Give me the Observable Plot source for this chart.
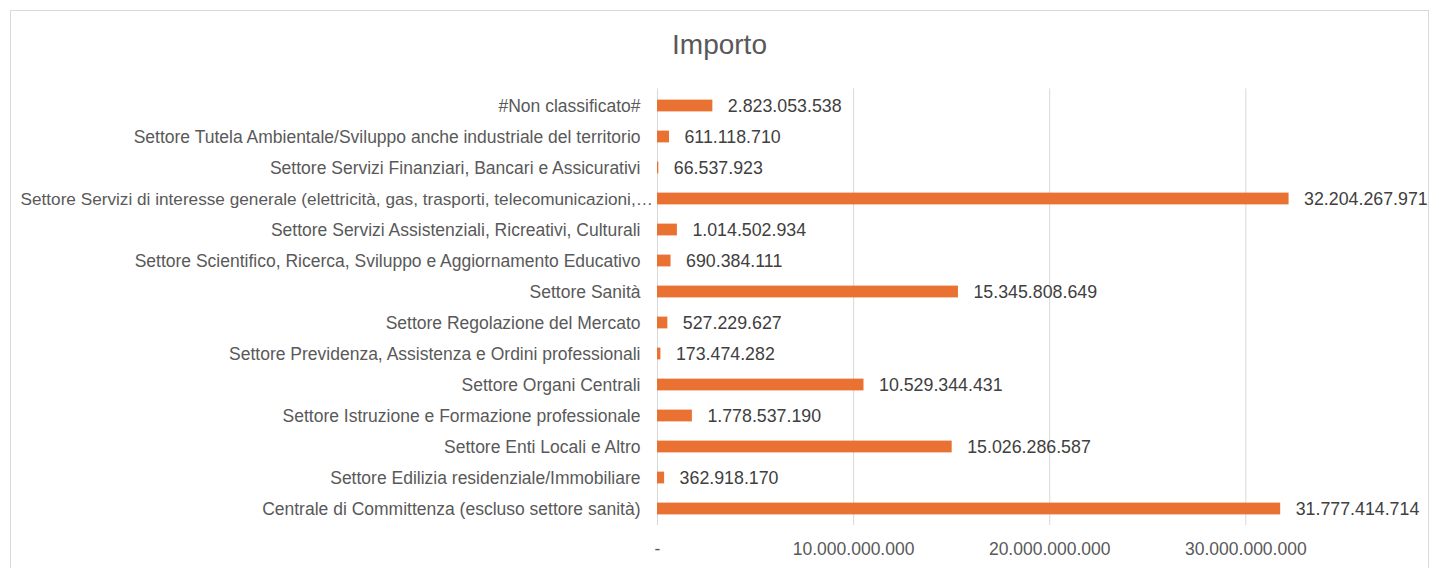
<!DOCTYPE html>
<html>
<head>
<meta charset="utf-8">
<script src="https://cdn.jsdelivr.net/npm/d3@7"></script>
<script src="https://cdn.jsdelivr.net/npm/@observablehq/plot@0.6"></script>
<style>
  html, body { margin: 0; padding: 0; background: #fff; }
  #frame { position: absolute; left: 10px; top: 10px; width: 1419px; height: 600px; border: 1px solid #d9d9d9; box-sizing: border-box; }
  #title { position: absolute; left: 0; top: 0; width: 1439px; height: 75px; text-align: center; font-family: "Liberation Sans", Arial, sans-serif; font-size: 28px; color: #595959; line-height: 90px; }
  #chart { position: absolute; left: 0; top: 75px; }
</style>
</head>
<body>
<div id="frame"></div>
<div id="title">Importo</div>
<div id="chart"></div>
<script>
const categories = [
  "#Non classificato#",
  "Settore Tutela Ambientale/Sviluppo anche industriale del territorio",
  "Settore Servizi Finanziari, Bancari e Assicurativi",
  "Settore Servizi di interesse generale (elettricità, gas, trasporti, telecomunicazioni,…",
  "Settore Servizi Assistenziali, Ricreativi, Culturali",
  "Settore Scientifico, Ricerca, Sviluppo e Aggiornamento Educativo",
  "Settore Sanità",
  "Settore Regolazione del Mercato",
  "Settore Previdenza, Assistenza e Ordini professionali",
  "Settore Organi Centrali",
  "Settore Istruzione e Formazione professionale",
  "Settore Enti Locali e Altro",
  "Settore Edilizia residenziale/Immobiliare",
  "Centrale di Committenza (escluso settore sanità)"
];
const values = [
  2823053538,
  611118710,
  66537923,
  32204267971,
  1014502934,
  690384111,
  15345808649,
  527229627,
  173474282,
  10529344431,
  1778537190,
  15026286587,
  362918170,
  31777414714
];
const xTicks = [0, 10000000000, 20000000000, 30000000000];

const locale = d3.formatLocale({decimal: ",", thousands: ".", grouping: [3], currency: ["", ""]});
const fmt = locale.format(",d");
const tickFmt = d => d === 0 ? "-" : fmt(d);

const data = categories.map((c, i) => ({cat: c, value: values[i]}));
const longLabel = categories[3];
const shortCats = data.filter(d => d.cat !== longLabel);
const longCats = data.filter(d => d.cat === longLabel);

const plot = Plot.plot({
  width: 1439,
  height: 493,
  marginLeft: 657,
  marginRight: 76,
  marginTop: 13.4,
  marginBottom: 42.8,
  style: {fontFamily: "'Liberation Sans', Arial, sans-serif", fontSize: "17px", color: "#595959", background: "transparent"},
  x: {domain: [0, 36000000000], label: null, axis: null},
  y: {domain: categories, padding: 0, label: null, axis: null},
  marks: [
    Plot.gridX(xTicks, {stroke: "#d9d9d9", strokeOpacity: 1}),
    Plot.barX(data, {x: "value", y: "cat", fill: "#E97132", insetTop: 9.6, insetBottom: 9.6}),
    Plot.text(data, {x: "value", y: "cat", text: d => fmt(d.value), textAnchor: "start", dx: 15, fontSize: 17.8, fill: "#404040"}),
    Plot.axisX(xTicks, {tickFormat: tickFmt, tickSize: 0, tickPadding: 17, fontSize: 17.5, fill: "#595959", label: null}),
    Plot.text(shortCats, {x: 0, y: "cat", text: "cat", textAnchor: "end", dx: -17, fontSize: 17.5, fill: "#595959"}),
    Plot.text(longCats, {x: 0, y: "cat", text: "cat", textAnchor: "start", dx: -637, fontSize: 17.2, fill: "#595959"})
  ]
});
document.getElementById("chart").appendChild(plot);
</script>
</body>
</html>
